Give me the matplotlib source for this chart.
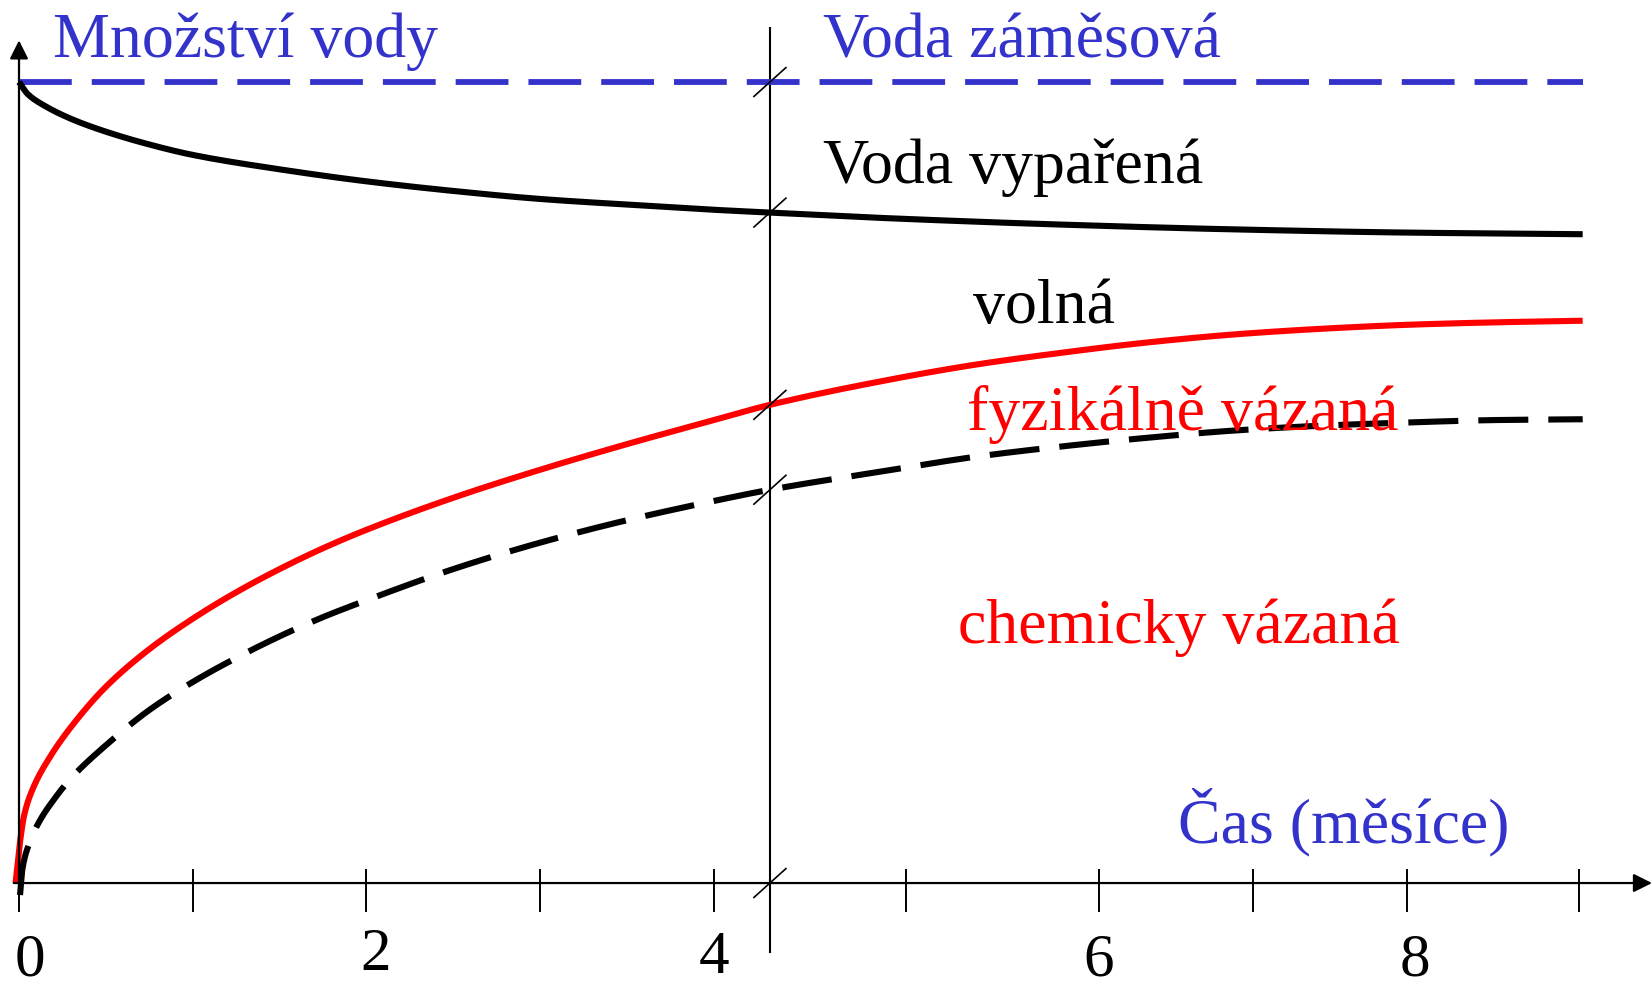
import numpy as np
import matplotlib
matplotlib.use("Agg")
import matplotlib.pyplot as plt

plt.rcParams['font.family'] = ['Liberation Serif', 'DejaVu Serif']
plt.rcParams['lines.scale_dashes'] = False

BLUE = '#3333cc'
RED = '#ff0000'

# x = position on the (broken) time axis, y = share of total water
x_vypar = [0.0, 0.05, 0.15, 0.3, 0.5, 0.75, 1.0, 1.5, 2.0, 2.5, 3.0, 3.5, 4.0, 4.322,
           5.0, 6.0, 7.0, 8.0, 9.0]
y_vypar = [1.0, 0.985, 0.970, 0.954, 0.938, 0.922, 0.909, 0.891, 0.876, 0.864, 0.854,
           0.847, 0.8405, 0.837, 0.830, 0.822, 0.816, 0.812, 0.810]

x_fyz = [-0.02, 0.005, 0.03, 0.08, 0.18, 0.3, 0.5, 0.75, 1.0, 1.25, 1.5, 1.75, 2.0,
         2.5, 3.0, 3.5, 4.0, 4.322, 5.0, 5.5, 6.0, 6.5, 7.0, 7.5, 8.0, 8.5, 9.0]
y_fyz = [0.0, 0.05, 0.085, 0.118, 0.158, 0.195, 0.245, 0.292, 0.330, 0.363, 0.392,
         0.418, 0.441, 0.481, 0.516, 0.548, 0.578, 0.597, 0.628, 0.647, 0.662, 0.675,
         0.685, 0.692, 0.697, 0.700, 0.702]

x_chem = [0.006, 0.02, 0.06, 0.12, 0.2, 0.3, 0.5, 0.75, 1.0, 1.25, 1.5, 1.75, 2.0,
          2.5, 3.0, 3.5, 4.0, 4.322, 5.0, 5.5, 6.0, 6.5, 7.0, 7.5, 8.0, 8.5, 9.0]
y_chem = [-0.015, 0.018, 0.050, 0.078, 0.104, 0.131, 0.172, 0.216, 0.251, 0.281, 0.308,
          0.332, 0.353, 0.392, 0.425, 0.453, 0.477, 0.491, 0.515, 0.532, 0.545, 0.556,
          0.565, 0.571, 0.575, 0.578, 0.579]

zamesova_level = 1.0
x_end = 9.0
x_break = 4.322

tick_pos = [0, 1, 2, 3, 4, 5.105, 6.216, 7.10, 7.99, 8.98]
label_text = ['0', '2', '4', '6', '8']
label_x = [0.063, 2.05, 4.0, 6.216, 8.035]
label_y = [-0.116, -0.109, -0.112, -0.116, -0.116]


def smooth(x, y, n=30):
    # monotone cubic (pchip) through the read points, only for drawing
    x = np.asarray(x, float)
    y = np.asarray(y, float)
    h = np.diff(x)
    d = np.diff(y) / h
    m = np.zeros_like(y)
    m[0], m[-1] = d[0], d[-1]
    for k in range(1, len(x) - 1):
        if d[k - 1] * d[k] > 0:
            w1 = 2 * h[k] + h[k - 1]
            w2 = h[k] + 2 * h[k - 1]
            m[k] = (w1 + w2) / (w1 / d[k - 1] + w2 / d[k])
    xs, ys = [], []
    for k in range(len(x) - 1):
        t = np.linspace(0, 1, n, endpoint=False)
        h00 = 2 * t ** 3 - 3 * t ** 2 + 1
        h10 = t ** 3 - 2 * t ** 2 + t
        h01 = -2 * t ** 3 + 3 * t ** 2
        h11 = t ** 3 - t ** 2
        xs.append(x[k] + t * h[k])
        ys.append(h00 * y[k] + h10 * h[k] * m[k] + h01 * y[k + 1] + h11 * h[k] * m[k + 1])
    xs.append([x[-1]])
    ys.append([y[-1]])
    return np.concatenate(xs), np.concatenate(ys)


fig = plt.figure(figsize=(16.52, 9.85), dpi=100)
ax = fig.add_axes([0, 0, 1, 1])
ax.set_xlim(-0.1094, 9.399)
ax.set_ylim(-0.1273, 1.1024)
ax.axis('off')

# axes with arrows
ax.annotate('', xy=(0, 1.052), xytext=(0, 0),
            arrowprops=dict(arrowstyle='-|>', lw=1.6, color='k', mutation_scale=28,
                            shrinkA=0, shrinkB=0))
ax.annotate('', xy=(9.399, 0), xytext=(-0.03, 0),
            arrowprops=dict(arrowstyle='-|>', lw=1.6, color='k', mutation_scale=28,
                            shrinkA=0, shrinkB=0))
ax.vlines(tick_pos, -0.036, 0.0175, color='k', lw=1.4)

# break line
ax.vlines(x_break, -0.087, 1.069, color='k', lw=1.5)

# curves
ax.plot([0, x_end], [zamesova_level, zamesova_level], color=BLUE, lw=4.2,
        dashes=(38, 14.4), solid_capstyle='butt', dash_capstyle='butt')
ax.plot(*smooth(x_vypar, y_vypar), color='k', lw=4.4, solid_capstyle='butt')
ax.plot(*smooth(x_fyz, y_fyz), color=RED, lw=4.4, solid_capstyle='butt')
ax.plot(*smooth(x_chem, y_chem), color='k', lw=4.4, dashes=(36, 14.4), dash_capstyle='butt')

# slashes where the lines cross the break
cross = [zamesova_level, np.interp(x_break, x_vypar, y_vypar),
         np.interp(x_break, x_fyz, y_fyz), np.interp(x_break, x_chem, y_chem), 0.0]
for yc in cross:
    ax.plot([x_break - 0.092, x_break + 0.092], [yc - 0.018, yc + 0.018], color='k', lw=1.2)

# tick labels
for t, xl, yl in zip(label_text, label_x, label_y):
    ax.text(xl, yl, t, ha='center', va='baseline', fontsize=44)

fs = 46
def lab(px, py, s, c):
    ax.text((px - 19) / 173.75, (883 - py) / 801, s, color=c, fontsize=fs,
            ha='left', va='baseline')

lab(53, 57, 'Množství vody', BLUE)
lab(823, 57, 'Voda záměsová', BLUE)
lab(823, 183, 'Voda vypařená', 'k')
lab(973, 323, 'volná', 'k')
lab(967, 430, 'fyzikálně vázaná', RED)
lab(958, 643, 'chemicky vázaná', RED)
lab(1178, 842, 'Čas (měsíce)', BLUE)

fig.savefig('out.png', dpi=100)
